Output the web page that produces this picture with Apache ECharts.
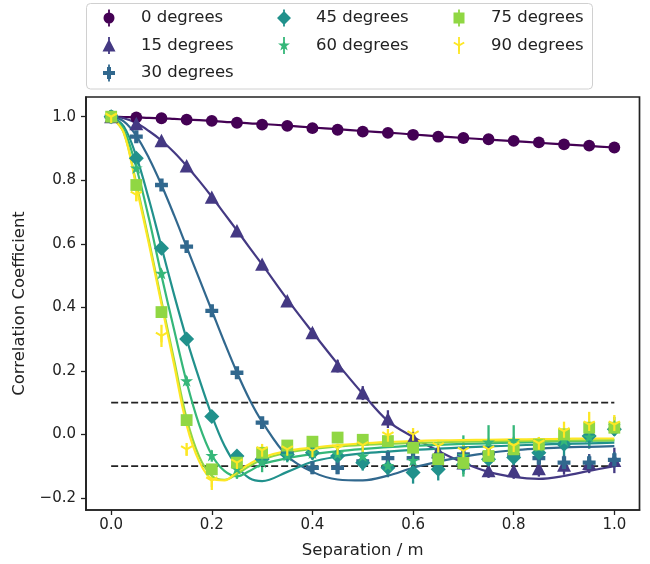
<!DOCTYPE html>
<html><head><meta charset="utf-8">
<script src="https://cdn.jsdelivr.net/npm/echarts@6/dist/echarts.min.js"></script>
<style>html,body{margin:0;padding:0;background:#fff}#c{width:650px;height:564px}</style>
</head><body><div id="c"></div>
<script>
// ---------- data ----------
const seriesNames = ['0 degrees','15 degrees','30 degrees','45 degrees','60 degrees','75 degrees','90 degrees'];
const sepX = [0,0.05,0.1,0.15,0.2,0.25,0.3,0.35,0.4,0.45,0.5,0.55,0.6,0.65,0.7,0.75,0.8,0.85,0.9,0.95,1.0];

const deg0  = [1.0,0.998,0.995,0.991,0.987,0.981,0.975,0.971,0.964,0.959,0.953,0.949,0.943,0.937,0.933,0.929,0.924,0.919,0.913,0.909,0.903];
const deg15 = [1.0,0.978,0.924,0.845,0.746,0.640,0.535,0.420,0.320,0.215,0.130,0.048,-0.012,-0.055,-0.09,-0.115,-0.115,-0.108,-0.097,-0.092,-0.082];
const deg30 = [1.0,0.937,0.785,0.591,0.389,0.194,0.037,-0.06,-0.105,-0.105,-0.085,-0.075,-0.075,-0.07,-0.063,-0.06,-0.065,-0.075,-0.089,-0.089,-0.08];
const deg45 = [1.0,0.869,0.586,0.300,0.056,-0.068,-0.078,-0.063,-0.058,-0.068,-0.089,-0.105,-0.12,-0.11,-0.095,-0.078,-0.073,-0.058,-0.031,-0.005,0.016];
const deg60 = [1.0,0.837,0.505,0.167,-0.068,-0.11,-0.089,-0.068,-0.06,-0.063,-0.07,-0.1,-0.084,-0.07,-0.068,-0.026,-0.021,-0.04,-0.02,-0.01,0.025];
const deg75 = [1.0,0.785,0.385,0.045,-0.11,-0.089,-0.058,-0.035,-0.023,-0.01,-0.017,-0.021,-0.042,-0.078,-0.09,-0.068,-0.047,-0.032,0.0,0.021,0.021];
const deg90 = [1.0,0.754,0.31,-0.047,-0.145,-0.089,-0.05,-0.047,-0.052,-0.044,-0.034,-0.003,0.0,-0.037,-0.052,-0.047,-0.035,-0.028,0.01,0.031,0.031];

const err0  = [0.003,0.003,0.003,0.003,0.003,0.003,0.003,0.003,0.003,0.003,0.003,0.003,0.003,0.003,0.003,0.003,0.003,0.003,0.003,0.003,0.003];
const err15 = [0.003,0.006,0.006,0.006,0.008,0.008,0.01,0.012,0.015,0.02,0.022,0.028,0.02,0.02,0.02,0.022,0.025,0.025,0.03,0.03,0.04];
const err30 = [0.003,0.008,0.008,0.008,0.01,0.01,0.015,0.02,0.02,0.02,0.025,0.025,0.025,0.025,0.025,0.025,0.025,0.025,0.025,0.025,0.025];
const err45 = [0.003,0.01,0.01,0.01,0.015,0.015,0.02,0.02,0.02,0.02,0.025,0.03,0.035,0.035,0.03,0.03,0.03,0.03,0.035,0.04,0.015];
const err60 = [0.003,0.01,0.012,0.015,0.018,0.03,0.03,0.02,0.02,0.02,0.03,0.03,0.03,0.03,0.065,0.055,0.05,0.03,0.03,0.03,0.03];
const err75 = [0.003,0.01,0.012,0.012,0.015,0.015,0.015,0.015,0.015,0.015,0.015,0.015,0.015,0.015,0.015,0.015,0.015,0.015,0.02,0.02,0.02];
const err90 = [0.003,0.02,0.035,0.02,0.03,0.015,0.02,0.015,0.015,0.015,0.02,0.02,0.02,0.02,0.02,0.02,0.02,0.02,0.03,0.04,0.03];

const fitX  = [0,0.025,0.05,0.075,0.1,0.125,0.15,0.175,0.2,0.225,0.25,0.275,0.3,0.35,0.4,0.45,0.5,0.55,0.6,0.65,0.7,0.75,0.8,0.85,0.9,0.95,1.0];
const fit0  = [1.0,0.999,0.998,0.996,0.995,0.993,0.991,0.989,0.987,0.984,0.982,0.979,0.977,0.972,0.966,0.961,0.955,0.950,0.944,0.938,0.933,0.928,0.923,0.918,0.913,0.908,0.903];
const fit15 = [1.0,0.995,0.98,0.955,0.925,0.888,0.845,0.798,0.748,0.695,0.642,0.588,0.535,0.425,0.322,0.222,0.128,0.042,-0.008,-0.052,-0.089,-0.118,-0.134,-0.14,-0.131,-0.115,-0.1];
const fit30 = [1.0,0.985,0.94,0.87,0.785,0.69,0.59,0.49,0.39,0.29,0.195,0.11,0.04,-0.068,-0.118,-0.142,-0.145,-0.13,-0.105,-0.086,-0.07,-0.058,-0.05,-0.045,-0.041,-0.039,-0.037];
const fit45 = [1.0,0.97,0.875,0.74,0.59,0.44,0.30,0.175,0.06,-0.035,-0.1,-0.138,-0.147,-0.118,-0.086,-0.07,-0.06,-0.054,-0.049,-0.045,-0.041,-0.038,-0.035,-0.032,-0.03,-0.028,-0.026];
const fit60 = [1.0,0.96,0.84,0.68,0.5,0.33,0.165,0.03,-0.065,-0.115,-0.132,-0.115,-0.094,-0.075,-0.062,-0.053,-0.046,-0.04,-0.036,-0.033,-0.03,-0.028,-0.026,-0.024,-0.022,-0.02,-0.019];
const fit75 = [1.0,0.95,0.79,0.61,0.42,0.235,0.05,-0.07,-0.13,-0.143,-0.125,-0.1,-0.08,-0.057,-0.046,-0.038,-0.033,-0.03,-0.027,-0.025,-0.023,-0.022,-0.021,-0.02,-0.019,-0.019,-0.018];
const fit90 = [1.0,0.95,0.78,0.6,0.41,0.22,0.03,-0.085,-0.14,-0.145,-0.118,-0.093,-0.073,-0.052,-0.042,-0.034,-0.028,-0.024,-0.021,-0.019,-0.018,-0.017,-0.016,-0.015,-0.014,-0.013,-0.013];

const refLevels = [0.1, -0.1];
const refRange = [0, 1];
const xTicks = [0,0.2,0.4,0.6,0.8,1.0];
const yTicks = [-0.2,0,0.2,0.4,0.6,0.8,1.0];

// ---------- styling ----------
const colors = ['#440154','#443983','#31688e','#21918c','#35b779','#90d743','#fde725'];
const BOX = 'M-10,-10 M10,10 ';
const shapes = [
  'M0,-5.5 A5.5,5.5 0 1 1 0,5.5 A5.5,5.5 0 1 1 0,-5.5 Z',
  'M0,-6.5 L6.5,6 L-6.5,6 Z',
  'M-2,-6 L2,-6 L2,-2 L6,-2 L6,2 L2,2 L2,6 L-2,6 L-2,2 L-6,2 L-6,-2 L-2,-2 Z',
  'M0,-7 L7,0 L0,7 L-7,0 Z',
  'M0,-6.3 L1.41,-1.95 L5.99,-1.95 L2.29,0.74 L3.70,5.1 L0,2.41 L-3.70,5.1 L-2.29,0.74 L-5.99,-1.95 L-1.41,-1.95 Z',
  'M-5.5,-5.5 L5.5,-5.5 L5.5,5.5 L-5.5,5.5 Z',
  'M-1,0 L1,0 L1,6 L-1,6 Z M-0.5,-0.866 L4.696,-3.866 L5.696,-2.134 L0.5,0.866 Z M-0.5,0.866 L-5.696,-2.134 L-4.696,-3.866 L0.5,-0.866 Z'
];
const BAR = 'M-0.9,-8.5 L0.9,-8.5 L0.9,8.5 L-0.9,8.5 Z ';
const fitsAll = [fit0,fit15,fit30,fit45,fit60,fit75,fit90];
const ysAll = [deg0,deg15,deg30,deg45,deg60,deg75,deg90];
const errsAll = [err0,err15,err30,err45,err60,err75,err90];

const FONT = 'DejaVu Sans';
const TXT = '#222';

const series = [];
refLevels.forEach((lv, k) => {
  series.push({
    type: 'line', name: 'ref' + k, silent: true, symbol: 'none',
    data: refRange.map(x => [x, lv]),
    lineStyle: { color: '#222', width: 1.9, type: [7, 3] }, z: 2
  });
});

seriesNames.forEach((nm, i) => {
  series.push({
    type: 'line', name: 'fit-' + nm, symbol: 'none', smooth: 0.35, silent: true,
    data: fitX.map((x, j) => [x, fitsAll[i][j]]),
    lineStyle: { color: colors[i], width: 2.2 }, z: 2
  });
  series.push({
    type: 'custom', name: 'err-' + nm, silent: true,
    data: sepX.map((x, j) => [x, ysAll[i][j], errsAll[i][j]]),
    encode: { x: 0, y: 1 },
    renderItem: function (params, api) {
      const x = api.value(0), y = api.value(1), e = api.value(2);
      const p1 = api.coord([x, y - e]), p2 = api.coord([x, y + e]);
      return { type: 'line', shape: { x1: p1[0], y1: p1[1], x2: p2[0], y2: p2[1] },
               style: { stroke: colors[i], lineWidth: 2.3 } };
    }, z: 2
  });
  series.push({
    type: 'scatter', name: nm,
    data: sepX.map((x, j) => [x, ysAll[i][j]]),
    symbol: 'path://' + BOX + shapes[i], symbolSize: 21.5,
    itemStyle: { color: colors[i], opacity: 1 }, z: 2
  });
});

function legendFor(names, left) {
  return {
    orient: 'vertical', left: left, top: 8, padding: 0, itemGap: 7.5,
    itemWidth: 20, itemHeight: 20, selectedMode: false,
    data: names.map(n => ({ name: n, icon: 'path://' + BOX + BAR + shapes[seriesNames.indexOf(n)] })),
    textStyle: { fontFamily: FONT, fontSize: 16.5, color: TXT, padding: [0, 0, 0, 17] }
  };
}

const fmt = v => (v < 0 ? '\u2212' + Math.abs(v).toFixed(1) : v.toFixed(1));

const option = {
  animation: false,
  backgroundColor: '#fff',
  grid: { left: 86, right: 10.5, top: 97, bottom: 53, show: true, borderColor: '#222', borderWidth: 1.7, backgroundColor: 'transparent' },
  legend: [
    legendFor(seriesNames.slice(0, 3), 99),
    legendFor(seriesNames.slice(3, 5), 274),
    legendFor(seriesNames.slice(5, 7), 449)
  ],
  graphic: [{ type: 'rect', shape: { x: 86.5, y: 3.5, width: 506, height: 85.5, r: 4 },
              style: { fill: '#fff', stroke: '#d0d0d0', lineWidth: 1 }, z: 0 }],
  xAxis: {
    type: 'value', min: -0.05, max: 1.05,
    name: 'Separation / m', nameLocation: 'middle', nameGap: 32,
    nameTextStyle: { fontFamily: FONT, fontSize: 16.5, color: TXT },
    axisLine: { show: true, onZero: false, lineStyle: { color: '#222', width: 1.7 } },
    axisTick: { show: true, inside: false, length: 5, lineStyle: { color: '#222', width: 1.3 }, customValues: xTicks },
    axisLabel: { show: true, margin: 8, fontFamily: FONT, fontSize: 15, color: TXT, customValues: xTicks, formatter: fmt },
    splitLine: { show: false }
  },
  yAxis: {
    type: 'value', min: -0.238, max: 1.062,
    name: 'Correlation Coefficient', nameLocation: 'middle', nameGap: 48,
    nameTextStyle: { fontFamily: FONT, fontSize: 16.5, color: TXT },
    axisLine: { show: true, onZero: false, lineStyle: { color: '#222', width: 1.7 } },
    axisTick: { show: true, inside: false, length: 5, lineStyle: { color: '#222', width: 1.3 }, customValues: yTicks },
    axisLabel: { show: true, margin: 10, fontFamily: FONT, fontSize: 15, color: TXT, customValues: yTicks, formatter: fmt },
    splitLine: { show: false }
  },
  series: series
};

const chart = echarts.init(document.getElementById('c'), null, { renderer: 'canvas' });
chart.setOption(option);
</script>
</body></html>
